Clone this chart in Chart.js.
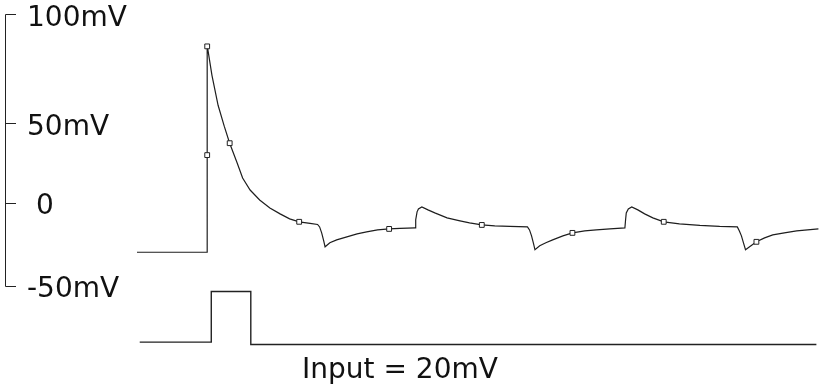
<!DOCTYPE html>
<html>
<head>
<meta charset="utf-8">
<title>Membrane potential</title>
<script src="https://cdn.jsdelivr.net/npm/chart.js@4/dist/chart.umd.min.js"></script>
<style>
  body { margin: 0; background: #fff; }
  canvas { display: block; }
</style>
</head>
<body>
<canvas id="trace" width="819" height="387"></canvas>
<script>
// membrane potential trace (ms, mV)
var traceTime = [0, 10.3, 10.3, 11.0, 11.9, 12.8, 13.6, 14.7, 15.5, 16.6, 18.0, 19.5, 21.0, 22.4, 23.8, 25.4, 26.5,
  26.8, 27.1, 27.4, 27.6, 28.3, 29.3, 30.8, 32.3, 33.7, 35.3, 37.0, 38.6, 40.8,
  40.9, 41.1, 41.3, 41.8, 42.7, 43.7, 45.5, 47.4, 48.8, 50.6, 52.5, 54.7, 57.3,
  57.6, 57.9, 58.2, 58.4, 59.1, 60.0, 61.0, 62.5, 63.9, 65.7, 67.4, 69.4, 71.6,
  71.7, 71.8, 72.1, 72.6, 73.5, 74.5, 75.7, 77.3, 79.6, 82.6, 85.5, 88.1,
  88.4, 88.7, 89.0, 89.3, 89.9, 90.9, 92.1, 93.3, 95.0, 96.8, 98.4, 100.0];
var traceMv = [-29.8, -29.8, 95.2, 77.1, 59.0, 46.4, 36.1, 24.1, 15.1, 7.8, 1.8, -3.0, -6.6, -9.6, -11.4, -12.3, -13.0,
  -14.5, -18.1, -22.9, -26.5, -24.1, -22.3, -20.5, -18.7, -17.5, -16.3, -15.7, -15.4, -15.1,
  -10.2, -5.4, -3.6, -2.4, -4.2, -6.0, -9.0, -10.8, -12.0, -13.3, -13.9, -14.2, -14.5,
  -16.3, -19.9, -24.7, -28.3, -25.9, -24.1, -22.3, -19.9, -18.1, -16.9, -16.3, -15.7, -15.1,
  -10.2, -6.0, -3.6, -2.4, -4.2, -6.6, -9.0, -11.4, -12.7, -13.6, -14.2, -14.5,
  -16.9, -19.9, -24.1, -28.3, -26.5, -23.5, -21.1, -19.3, -18.1, -16.9, -16.3, -15.7];

// sample points marked on the trace
var markTime = [10.3, 10.3, 13.6, 23.8, 37.0, 50.6, 63.9, 77.3, 90.9];
var markMv = [94.6, 28.9, 36.1, -11.4, -15.7, -13.3, -18.1, -11.4, -23.5];

// input pulse (mV)
var inputTime = [0.4, 10.9, 10.9, 16.7, 16.7, 99.7];
var inputMv = [0.5, 0.5, 20, 20, -0.4, -0.4];

// left axis: where each tick sits on the mV scale, and its text
var yTickAt = [113.9, 48.2, 0, -50];
var yTickLabels = ['100mV', '50mV', ' 0', '-50mV'];

var inputLabel = 'Input = 20mV';

function toPoints(xs, ys) {
  var pts = [];
  for (var i = 0; i < xs.length; i++) {
    pts.push({ x: xs[i], y: ys[i] });
  }
  return pts;
}

// axis line with short ticks on the right side, labels after them
var sideAxis = {
  id: 'sideAxis',
  afterDraw: function(chart) {
    var ctx = chart.ctx;
    var y = chart.scales.y;
    var top = y.getPixelForValue(yTickAt[0]);
    var bottom = y.getPixelForValue(yTickAt[yTickAt.length - 1]);
    ctx.save();
    ctx.strokeStyle = '#222';
    ctx.lineWidth = 1;
    ctx.beginPath();
    ctx.moveTo(5.5, Math.round(top) + 0.5);
    ctx.lineTo(5.5, Math.round(bottom) + 0.5);
    for (var i = 0; i < yTickAt.length; i++) {
      var py = Math.round(y.getPixelForValue(yTickAt[i])) + 0.5;
      ctx.moveTo(5.5, py);
      ctx.lineTo(16, py);
    }
    ctx.stroke();

    ctx.fillStyle = '#111';
    ctx.font = '28px "DejaVu Sans"';
    ctx.textBaseline = 'alphabetic';
    ctx.textAlign = 'left';
    for (var j = 0; j < yTickAt.length; j++) {
      var ly = y.getPixelForValue(yTickAt[j]) + 11.5;
      ctx.fillText(yTickLabels[j], 27, ly);
    }

    ctx.textAlign = 'center';
    ctx.fillText(inputLabel, 400, 378);
    ctx.restore();
  }
};

// chart.js keeps ~4.4px around the plot for the square markers,
// so the ranges below are set against that inset plot area
var ctx = document.getElementById('trace').getContext('2d');
var chart = new Chart(ctx, {
  type: 'line',
  data: {
    datasets: [{
      data: toPoints(markTime, markMv),
      showLine: false,
      pointStyle: 'rect',
      pointRadius: 3.4,
      pointBorderWidth: 1,
      pointBorderColor: '#222',
      pointBackgroundColor: '#fff',
      yAxisID: 'y',
      clip: false,
      order: 0
    }, {
      data: toPoints(traceTime, traceMv),
      borderColor: '#1e1e1e',
      borderWidth: 1.2,
      pointRadius: 0,
      tension: 0,
      fill: false,
      yAxisID: 'y',
      clip: false,
      order: 1
    }, {
      data: toPoints(inputTime, inputMv),
      borderColor: '#222',
      borderWidth: 1.4,
      pointRadius: 0,
      tension: 0,
      fill: false,
      yAxisID: 'yIn',
      clip: false,
      order: 2
    }]
  },
  options: {
    responsive: false,
    animation: false,
    layout: { padding: { left: 137, right: 0, top: 0, bottom: 0 } },
    plugins: {
      legend: { display: false },
      tooltip: { enabled: false }
    },
    scales: {
      x: { type: 'linear', display: false, min: 0, max: 99.35 },
      y: { display: false, min: -108.2, max: 119.6 },
      yIn: { display: false, min: -14.9, max: 130.6 }
    }
  },
  plugins: [sideAxis]
});
</script>
</body>
</html>
